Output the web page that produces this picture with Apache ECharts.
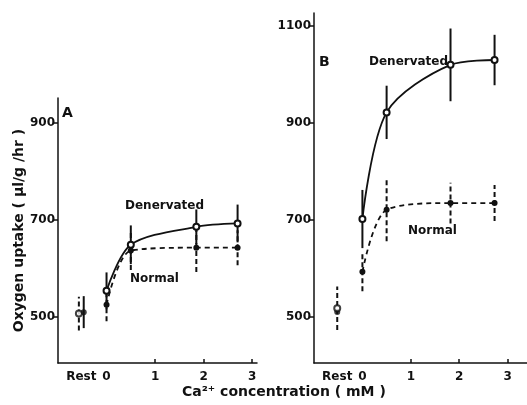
<!DOCTYPE html>
<html><head><meta charset="utf-8">
<script src="https://cdn.jsdelivr.net/npm/echarts@6/dist/echarts.min.js"></script>
<style>html,body{margin:0;padding:0;background:#fff}#c{width:527px;height:405px}</style>
</head><body><div id="c"></div>
<script>
// ---- data ----
const restX = -0.52;
const concA = [0, 0.5, 1.85, 2.7];
const denA = [554, 649, 686, 693];
const denAErr = [38, 40, 36, 39];
const normA = [525, 637, 643, 643];
const normAErr = [34, 40, 50, 36];
const restA = {den: 507, denErr: 35, norm: 510, normErr: 33};

const concB = [0, 0.5, 1.82, 2.73];
const denB = [702, 922, 1020, 1030];
const denBErr = [60, 55, 75, 52];
const normB = [593, 721, 735, 735];
const normBErr = [40, 65, 42, 37];
const restB = {den: 518, denErr: 45, norm: 510, normErr: 45};

const xTickLabels = ['Rest', '0', '1', '2', '3'];
const xTickValues = [restX, 0, 1, 2, 3];
const yTicksA = [500, 700, 900];
const yTicksB = [500, 700, 900, 1100];

const FONT = 'DejaVu Sans';
const ink = '#111';

function pts(xs, ys){ return xs.map((x,i)=>[x, ys[i]]); }
function errData(xs, ys, es){ return xs.map((x,i)=>[x, ys[i]-es[i], ys[i]+es[i]]); }

function errSeries(idx, data, dashed){
  return {
    type:'custom', xAxisIndex:idx, yAxisIndex:idx, silent:true, z:1,
    renderItem:function(params, api){
      const lo = api.coord([api.value(0), api.value(1)]);
      const hi = api.coord([api.value(0), api.value(2)]);
      return {type:'line', shape:{x1:lo[0], y1:lo[1], x2:hi[0], y2:hi[1]},
        style:{stroke:ink, lineWidth:2, lineDash: dashed ? [5,3] : null}};
    },
    data:data
  };
}

function xAxisCfg(idx, max){
  return {
    type:'value', gridIndex:idx, min:-1, max:max,
    axisLine:{onZero:false, lineStyle:{color:ink, width:1.5}},
    splitLine:{show:false},
    axisTick:{inside:true, length:4, lineStyle:{color:ink, width:1.5}, customValues:[1,2,3]},
    axisLabel:{customValues:xTickValues, color:ink, fontFamily:FONT, fontWeight:'bold', fontSize:12, margin:8,
      formatter:function(v){ const i = xTickValues.findIndex(t=>Math.abs(t-v)<1e-6); return i>=0 ? xTickLabels[i] : ''; }}
  };
}
function yAxisCfg(idx, min, max, ticks, name){
  return {
    type:'value', gridIndex:idx, min:min, max:max,
    name:name, nameLocation:'middle', nameGap:32,
    nameTextStyle:{color:ink, fontFamily:FONT, fontWeight:'bold', fontSize:14},
    axisLine:{show:true, onZero:false, lineStyle:{color:ink, width:1.5}},
    splitLine:{show:false},
    axisTick:{show:true, length:4, lineStyle:{color:ink, width:1.5}, customValues:ticks},
    axisLabel:{customValues:ticks, color:ink, fontFamily:FONT, fontWeight:'bold', fontSize:12, margin:3,
      formatter:function(v){ return String(v); }}
  };
}

const chart = echarts.init(document.getElementById('c'), null, {renderer:'canvas'});
const lineSmooth = 0.3;
const option = {
  backgroundColor:'#fff',
  animation:false,
  grid:[
    {left:58, top:98, width:199, height:265},
    {left:314, top:13, width:213, height:350}
  ],
  xAxis:[xAxisCfg(0, 3.1), xAxisCfg(1, 3.4)],
  yAxis:[yAxisCfg(0, 405, 952, yTicksA, 'Oxygen uptake ( µl/g /hr )'), yAxisCfg(1, 405, 1127, yTicksB, '')],
  series:[
    // Panel A
    errSeries(0, errData(concA, denA, denAErr), false),
    errSeries(0, errData(concA, normA, normAErr), true),
    errSeries(0, [[restX-0.05, restA.den-restA.denErr, restA.den+restA.denErr]], true),
    errSeries(0, [[restX+0.05, restA.norm-restA.normErr, restA.norm+restA.normErr]], false),
    {type:'line', xAxisIndex:0, yAxisIndex:0, data:pts(concA, denA), smooth:lineSmooth,
      symbol:'emptyCircle', symbolSize:6, lineStyle:{color:ink, width:1.8}, itemStyle:{color:ink, borderWidth:1.2}, z:3},
    {type:'line', xAxisIndex:0, yAxisIndex:0, data:pts(concA, normA), smooth:lineSmooth,
      symbol:'circle', symbolSize:6, lineStyle:{color:ink, width:1.8, type:[5,4]}, itemStyle:{color:ink}, z:3},
    {type:'scatter', xAxisIndex:0, yAxisIndex:0, data:[[restX-0.05, restA.den]], symbol:'emptyCircle', symbolSize:6, itemStyle:{color:ink, borderWidth:1.2}, z:4},
    {type:'scatter', xAxisIndex:0, yAxisIndex:0, data:[[restX+0.05, restA.norm]], symbol:'circle', symbolSize:6, itemStyle:{color:ink}, z:4},
    // Panel B
    errSeries(1, errData(concB, denB, denBErr), false),
    errSeries(1, errData(concB, normB, normBErr), true),
    errSeries(1, [[restX, restB.den-restB.denErr, restB.den+restB.denErr]], true),
    {type:'line', xAxisIndex:1, yAxisIndex:1, data:pts(concB, denB), smooth:lineSmooth,
      symbol:'emptyCircle', symbolSize:6, lineStyle:{color:ink, width:1.8}, itemStyle:{color:ink, borderWidth:1.2}, z:3},
    {type:'line', xAxisIndex:1, yAxisIndex:1, data:pts(concB, normB), smooth:lineSmooth,
      symbol:'circle', symbolSize:6, lineStyle:{color:ink, width:1.8, type:[5,4]}, itemStyle:{color:ink}, z:3},
    {type:'scatter', xAxisIndex:1, yAxisIndex:1, data:[[restX, restB.norm]], symbol:'circle', symbolSize:6, itemStyle:{color:ink}, z:4},
    {type:'scatter', xAxisIndex:1, yAxisIndex:1, data:[[restX, restB.den]], symbol:'emptyCircle', symbolSize:6, itemStyle:{color:ink, borderWidth:1.2}, z:5}
  ],
  graphic:[
    {type:'text', left:62, top:106, style:{text:'A', font:'bold 14px "DejaVu Sans"', fill:ink}},
    {type:'text', left:319, top:55, style:{text:'B', font:'bold 14px "DejaVu Sans"', fill:ink}},
    {type:'text', left:125, top:200, style:{text:'Denervated', font:'bold 12px "DejaVu Sans"', fill:ink}},
    {type:'text', left:130, top:273, style:{text:'Normal', font:'bold 12px "DejaVu Sans"', fill:ink}},
    {type:'text', left:369, top:56, style:{text:'Denervated', font:'bold 12px "DejaVu Sans"', fill:ink}},
    {type:'text', left:408, top:225, style:{text:'Normal', font:'bold 12px "DejaVu Sans"', fill:ink}},
    {type:'text', left:182, top:385, style:{text:'Ca²⁺ concentration ( mM )', font:'bold 14px "DejaVu Sans"', fill:ink}}
  ]
};
chart.setOption(option);
</script>
</body></html>
